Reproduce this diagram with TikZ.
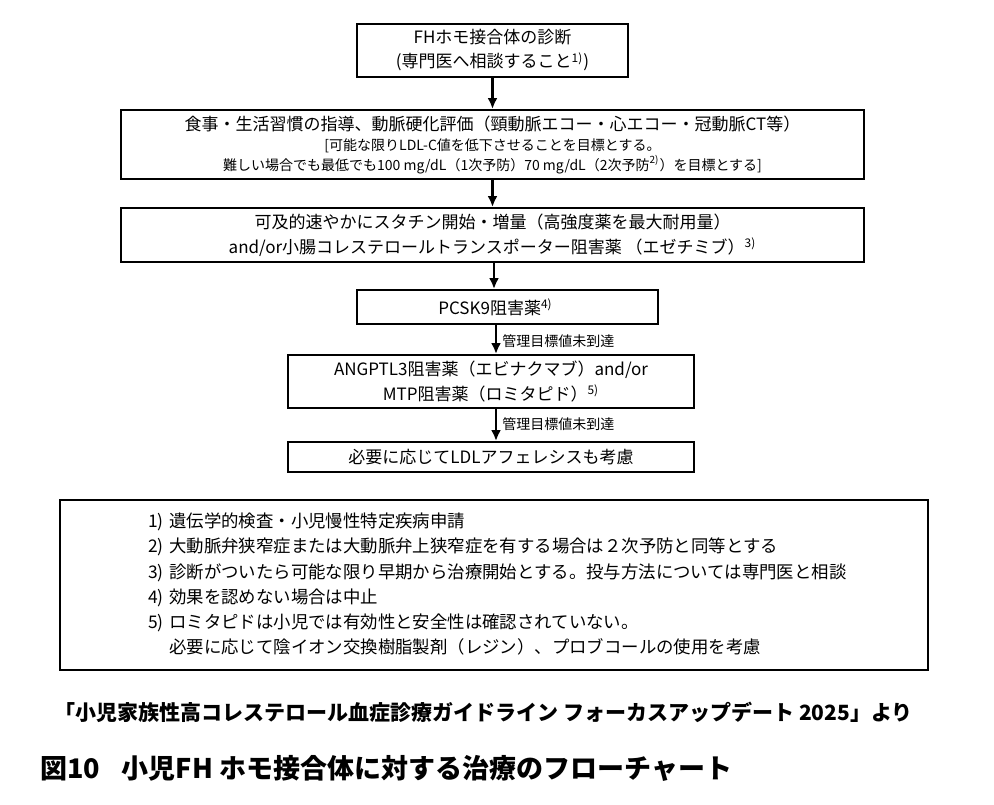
\documentclass[tikz,border=0pt]{standalone}
\usepackage{fontspec}
\setmainfont{Noto Sans CJK JP}
\usetikzlibrary{arrows.meta}

\begin{document}
\begin{tikzpicture}[x=0.5pt, y=-0.5pt,
    flowbox/.style={draw, line width=1pt, align=center, inner sep=0pt, font=\fontsize{8.5}{12.5}\selectfont},
    arr/.style={-{Latex[length=5.5pt,width=5pt]}, line width=1.2pt},
    cond/.style={anchor=west, inner sep=0pt, font=\fontsize{7}{8}\selectfont}]
    \useasboundingbox (0,0) rectangle (994,804);
    \node (diag) at (492.5,50.5) [flowbox, minimum width=135.5pt, minimum height=26.5pt, font=\fontsize{8.5}{12}\selectfont] {FHホモ接合体の診断\\(専門医へ相談すること\textsuperscript{1)})};
    \node (diet) at (492.5,144.5) [flowbox, minimum width=371.5pt, minimum height=34.5pt, font=\fontsize{8.5}{10}\selectfont] {食事・生活習慣の指導、動脈硬化評価（頸動脈エコー・心エコー・冠動脈CT等）\\ \fontsize{7}{10}\selectfont [可能な限りLDL-C値を低下させることを目標とする。\\ \fontsize{7}{10}\selectfont 難しい場合でも最低でも100 mg/dL（1次予防）70 mg/dL（2次予防\textsuperscript{2)}）を目標とする]};
    \node (statin) at (492.5,235) [flowbox, minimum width=371.5pt, minimum height=27pt] {可及的速やかにスタチン開始・増量（高強度薬を最大耐用量）\\and/or小腸コレステロールトランスポーター阻害薬 （エゼチミブ）\textsuperscript{3)}};
    \node (pcsk) at (507.5,307) [flowbox, minimum width=150.5pt, minimum height=17pt] {\hspace*{-12pt}PCSK9阻害薬\textsuperscript{4)}};
    \node (angptl) at (491,381.5) [flowbox, minimum width=203pt, minimum height=26.5pt] {ANGPTL3阻害薬（エビナクマブ）and/or\\MTP阻害薬（ロミタピド）\textsuperscript{5)}};
    \node (apher) at (491,457) [flowbox, minimum width=203pt, minimum height=15pt] {必要に応じてLDLアフェレシスも考慮};
    \draw [arr] (diag.south) -- (diet.north);
    \draw [arr] (diet.south) -- (statin.north);
    \draw [arr] ([xshift=0.75pt]statin.south) -- ([xshift=-6.75pt]pcsk.north);
    \draw [arr] ([xshift=-5.75pt]pcsk.south) -- ([xshift=2.5pt]angptl.north);
    \draw [arr] ([xshift=2.5pt]angptl.south) -- ([xshift=2.5pt]apher.north);
    \node (cond1) at (502,341) [cond] {管理目標値未到達};
    \node (cond2) at (502,424) [cond] {管理目標値未到達};
    \node (notes) at (494,585) [draw, line width=0.8pt, minimum width=434pt, minimum height=85pt, inner xsep=44pt, inner ysep=0pt, text width=346pt, align=left, font=\fontsize{8.7}{12.6}\selectfont] {1) 遺伝学的検査・小児慢性特定疾病申請\\2) 大動脈弁狭窄症または大動脈弁上狭窄症を有する場合は２次予防と同等とする\\3) 診断がついたら可能な限り早期から治療開始とする。投与方法については専門医と相談\\4) 効果を認めない場合は中止\\5) ロミタピドは小児では有効性と安全性は確認されていない。\\\phantom{5)}\ 必要に応じて陰イオン交換樹脂製剤（レジン）、プロブコールの使用を考慮};
    \node (src) at (54,712) [anchor=west, inner sep=0pt, font=\bfseries\fontsize{10.5}{12}\selectfont] {「小児家族性高コレステロール血症診療ガイドライン フォーカスアップデート 2025」より};
    \node (fig) at (40,768) [anchor=west, inner sep=0pt, font=\bfseries\fontsize{13.5}{16}\selectfont] {図10\hspace{0.8em}小児FH ホモ接合体に対する治療のフローチャート};
\end{tikzpicture}
\end{document}
